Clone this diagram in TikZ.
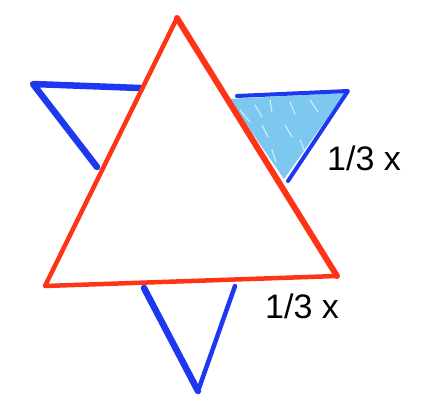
\documentclass[tikz,border=0pt]{standalone}
\usepackage{fontspec}
\setmainfont{Liberation Sans}
\definecolor{redline}{RGB}{255,52,22}
\definecolor{blueline}{RGB}{30,55,240}
\definecolor{skyfill}{RGB}{125,200,240}
\tikzset{
  redside/.style={draw=redline, line width=4.5pt, line cap=round, line join=round},
  blueside/.style={draw=blueline, line width=6.5pt, line cap=round, line join=round},
  lbl/.style={font=\fontsize{34}{38}\selectfont, inner sep=0pt}
}
\begin{document}
\begin{tikzpicture}[x=1pt,y=-1pt]
\useasboundingbox (0,0) rectangle (423,412);
% red triangle corners
\coordinate (rt) at (177,18);
\coordinate (rl) at (45,286);
\coordinate (rr) at (337,276);
% shaded corner
\fill[skyfill] (229,99) -- (345,93) -- (284,179) -- cycle;
\foreach \a/\b/\c in {240/110/250, 255/105/262, 270/100/272, 290/102/295, 310/100/318, 262/125/268, 285/125/292, 300/140/305, 272/150/276}{
  \draw[white, opacity=0.7, line width=1pt, line cap=round] (\a,\b) -- (\c,\b+12);
}
% blue pieces
\draw[blueside] (140,88) -- (33,84) -- (97,167);
\draw[blueside, line width=4pt] (237,96) -- (348,91) -- (288,181);
\draw[blueside] (144,288) -- (198,391);
\draw[blueside, line width=4.5pt] (198,391) -- (235,286);
% red triangle
\draw[redside] (rt) -- (rl) -- (rr);
\draw[redside, line width=6pt] (rr) -- (rt);
% labels
\node[lbl] (l1) at (364,158) {1/3 x};
\node[lbl] (l2) at (302,306) {1/3 x};
\end{tikzpicture}
\end{document}
